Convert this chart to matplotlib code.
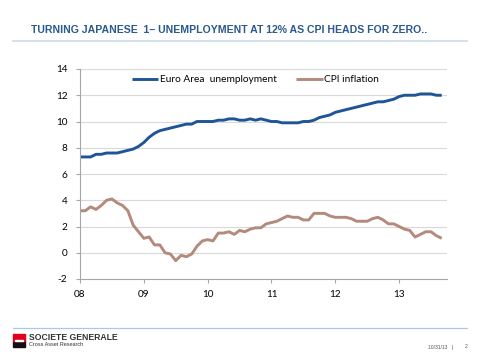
import matplotlib
matplotlib.use("Agg")
import matplotlib.pyplot as plt
import numpy as np
from matplotlib.patches import Rectangle
from matplotlib.lines import Line2D

start_year = 2008
unemployment = [
    7.3, 7.3, 7.3, 7.5, 7.5, 7.6, 7.6, 7.6, 7.7, 7.8, 7.9, 8.1,
    8.4, 8.8, 9.1, 9.3, 9.4, 9.5, 9.6, 9.7, 9.8, 9.8, 10.0, 10.0,
    10.0, 10.0, 10.1, 10.1, 10.2, 10.2, 10.1, 10.1, 10.2, 10.1, 10.2, 10.1,
    10.0, 10.0, 9.9, 9.9, 9.9, 9.9, 10.0, 10.0, 10.1, 10.3, 10.4, 10.5,
    10.7, 10.8, 10.9, 11.0, 11.1, 11.2, 11.3, 11.4, 11.5, 11.5, 11.6, 11.7,
    11.9, 12.0, 12.0, 12.0, 12.1, 12.1, 12.1, 12.0, 12.0,
]
cpi = [
    3.2, 3.2, 3.5, 3.3, 3.6, 4.0, 4.1, 3.8, 3.6, 3.2, 2.1, 1.6,
    1.1, 1.2, 0.6, 0.6, 0.0, -0.1, -0.6, -0.2, -0.3, -0.1, 0.5, 0.9,
    1.0, 0.9, 1.5, 1.5, 1.6, 1.4, 1.7, 1.6, 1.8, 1.9, 1.9, 2.2,
    2.3, 2.4, 2.6, 2.8, 2.7, 2.7, 2.5, 2.5, 3.0, 3.0, 3.0, 2.8,
    2.7, 2.7, 2.7, 2.6, 2.4, 2.4, 2.4, 2.6, 2.7, 2.5, 2.2, 2.2,
    2.0, 1.8, 1.7, 1.2, 1.4, 1.6, 1.6, 1.3, 1.1,
]
year_ticks = [2008, 2009, 2010, 2011, 2012, 2013]
year_labels = ["08", "09", "10", "11", "12", "13"]
y_ticks = [-2, 0, 2, 4, 6, 8, 10, 12, 14]

x = start_year + np.arange(len(unemployment)) / 12.0

fig = plt.figure(figsize=(4.8, 3.6), dpi=100)
fig.patch.set_facecolor("white")
ax = fig.add_axes([80/480, 1-279/360, (447-80)/480, (279-69)/360])

blue = "#1F5597"
brown = "#B38A7B"
ax.plot(x, unemployment, color=blue, lw=2.1, label="Euro Area  unemployment", solid_capstyle="butt")
ax.plot(x, cpi, color=brown, lw=2.1, label="CPI inflation", solid_capstyle="butt")

ax.set_xlim(2008, 2013.75)
ax.set_ylim(-2, 14)
ax.set_yticks(y_ticks)
ax.set_yticklabels([str(v) for v in y_ticks])
ax.set_xticks(year_ticks)
ax.set_xticklabels(year_labels)
ax.grid(axis="y", color="#D9D9D9", lw=0.8)
ax.set_axisbelow(True)
for s in ["top", "right"]:
    ax.spines[s].set_visible(False)
for s in ["left", "bottom"]:
    ax.spines[s].set_color("#A6A6A6")
    ax.spines[s].set_linewidth(0.8)
ax.tick_params(axis="both", colors="#A6A6A6", length=3, width=0.8, labelcolor="#000000",
               labelsize=7.2)
for lab in ax.get_xticklabels() + ax.get_yticklabels():
    lab.set_family("Lato")
ax.tick_params(axis="y", pad=6)
ax.tick_params(axis="x", pad=5)

leg = ax.legend(loc="upper left", ncol=2, frameon=False, prop={"family": "Lato", "size": 7.3},
                bbox_to_anchor=((133-80)/367 - 0.02, 1.0), handlelength=2.6, handletextpad=0.15,
                columnspacing=1.95, borderaxespad=0.2)

# Title
fig.text(31/480, 1-30/360, "TURNING JAPANESE  1\u2013 UNEMPLOYMENT AT 12% AS CPI HEADS FOR ZERO..",
         family="Liberation Sans", weight="bold", fontsize=7.6, color="#2B5A8C", va="center", ha="left")
fig.add_artist(Line2D([13/480, 467/480], [1-41/360, 1-41/360], color="#C9DCEB", lw=1.2))

# Footer
fig.add_artist(Line2D([13/480, 467/480], [1-328/360, 1-328/360], color="#A9C9E4", lw=0.9))
fig.add_artist(Rectangle((13/480, 1-347/360), 12/480, 6.5/360, color="#111111", transform=fig.transFigure))
fig.add_artist(Rectangle((13/480, 1-340.5/360), 12/480, 6.5/360, color="#E2001A", transform=fig.transFigure))
fig.add_artist(Rectangle((15/480, 1-341/360), 8/480, 1/360, color="white", transform=fig.transFigure))
fig.text(29/480, 1-337.5/360, "SOCIETE GENERALE", family="Liberation Sans", weight="bold",
         fontsize=6.2, color="#333333", va="center", ha="left")
fig.text(29/480, 1-345/360, "Cross Asset Research", family="Liberation Sans",
         fontsize=4.0, color="#333333", va="center", ha="left")
fig.text(453/480, 1-347/360, "10/31/13   |", family="Liberation Sans",
         fontsize=3.6, color="#555555", va="center", ha="right")
fig.text(467/480, 1-347/360, "2", family="Liberation Sans",
         fontsize=3.6, color="#555555", va="center", ha="right")

fig.savefig("out.png", dpi=100, facecolor="white")
